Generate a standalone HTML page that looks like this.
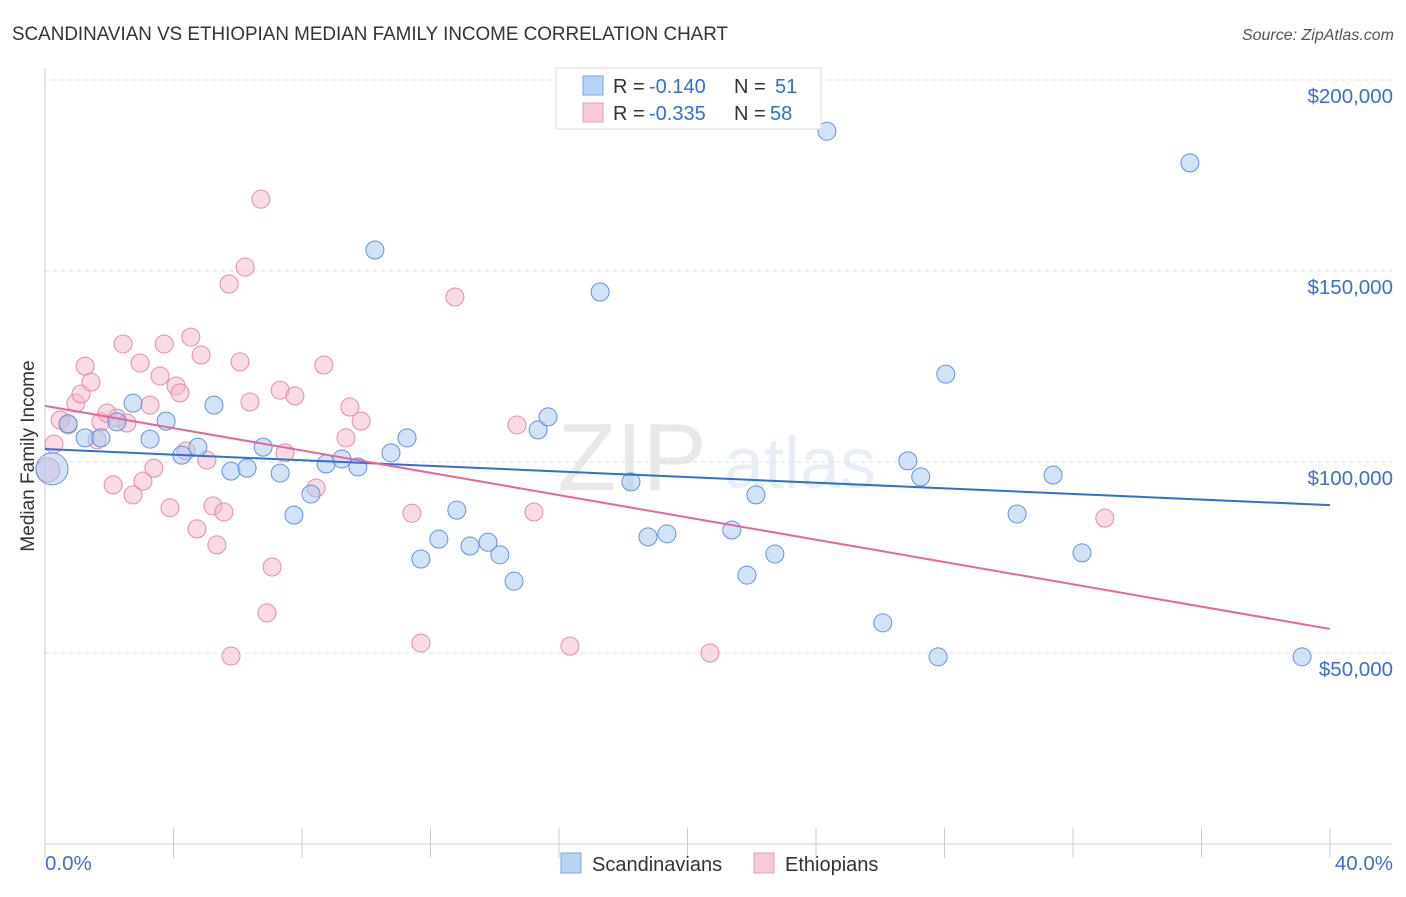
<!DOCTYPE html>
<html><head><meta charset="utf-8"><style>
body{margin:0;background:#fff;font-family:"Liberation Sans",sans-serif;}
svg text{font-family:"Liberation Sans",sans-serif;}
</style></head><body>
<svg id="chart" width="1406" height="892" viewBox="0 0 1406 892">
<text x="12" y="40" font-size="19" fill="#333" textLength="716" lengthAdjust="spacingAndGlyphs">SCANDINAVIAN VS ETHIOPIAN MEDIAN FAMILY INCOME CORRELATION CHART</text>
<text x="1394" y="40" font-size="16" fill="#555" text-anchor="end" font-style="italic">Source: ZipAtlas.com</text>
<text x="34" y="456" font-size="19" fill="#333" text-anchor="middle" transform="rotate(-90 34 456)">Median Family Income</text>
<g opacity="0.13">
<text x="632" y="490" font-size="96" font-family="Liberation Serif" fill="#555" text-anchor="middle">ZIP</text>
<text x="800" y="488" font-size="72" fill="#4a7fd0" text-anchor="middle">atlas</text>
</g>
<g id="grid"></g>
<g id="axes"></g>
<g id="marks"></g>
<g>
<rect x="556" y="68" width="265" height="61" fill="#fff" stroke="#ddd"/>
<rect x="583" y="76" width="20" height="19" fill="#b8d3f5" stroke="#7aa6e6"/>
<rect x="583" y="103" width="20" height="19" fill="#f9c9d8" stroke="#eb9ab5"/>
<text x="613" y="93" font-size="20" fill="#333">R =</text>
<text x="649" y="93" font-size="20" fill="#2f6fd6">-0.140</text>
<text x="734" y="93" font-size="20" fill="#333">N =</text>
<text x="775" y="93" font-size="20" fill="#2f6fd6">51</text>
<text x="613" y="120" font-size="20" fill="#333">R =</text>
<text x="649" y="120" font-size="20" fill="#2f6fd6">-0.335</text>
<text x="734" y="120" font-size="20" fill="#333">N =</text>
<text x="770" y="120" font-size="20" fill="#2f6fd6">58</text>
</g>
<g>
<rect x="561" y="853" width="20" height="20" fill="#b8d3f5" stroke="#7aa6e6"/>
<text x="592" y="871" font-size="20" fill="#333">Scandinavians</text>
<rect x="754" y="853" width="20" height="20" fill="#f9c9d8" stroke="#eb9ab5"/>
<text x="785" y="871" font-size="20" fill="#333">Ethiopians</text>
</g>
</svg>
<script>
const yTicks=[50000,100000,150000,200000];
const yTickLabels=["$50,000","$100,000","$150,000","$200,000"];
const xTickLabels=["0.0%","40.0%"];
const blueX=[0.22,0.72,1.25,1.74,2.24,2.74,3.27,3.77,4.26,4.76,5.26,5.79,6.29,6.79,7.32,7.75,8.28,8.75,9.24,9.74,10.27,10.77,11.27,11.7,12.26,12.82,13.23,13.79,14.16,14.6,15.35,15.66,17.28,18.24,18.77,19.36,21.38,21.85,22.13,22.72,24.34,26.08,26.86,27.26,27.8,28.04,30.26,31.38,32.28,35.64,39.13];
const blueY=[98.2,110,106.3,106.3,110.5,115.4,106,110.7,101.8,103.9,114.9,97.6,98.4,103.9,97.1,86.1,91.6,99.5,100.8,98.7,155.5,102.4,106.3,74.6,79.8,87.4,78,79,75.7,68.8,108.4,111.8,144.5,94.8,80.4,81.2,82.2,70.4,91.4,75.9,186.6,57.9,100.3,96.1,49,123,86.4,96.6,76.2,178.3,49];
const pinkX=[0.09,0.28,0.47,0.72,0.96,1.12,1.25,1.43,1.62,1.74,1.93,2.12,2.24,2.43,2.55,2.74,2.96,3.05,3.27,3.39,3.58,3.71,3.89,4.08,4.2,4.39,4.54,4.73,4.86,5.04,5.23,5.35,5.57,5.73,5.79,6.07,6.23,6.38,6.72,6.91,7.07,7.32,7.47,7.78,8.44,8.68,9.37,9.49,9.84,11.42,11.7,12.76,14.69,15.22,16.34,20.7,32.99];
const pinkY=[97.9,104.7,111,109.7,115.4,117.8,125.1,120.9,105.8,110.5,112.8,94,111.5,130.9,110.2,91.4,125.9,95,114.9,98.4,122.5,130.9,88,119.9,118.1,102.9,132.7,82.5,128,100.5,88.5,78.3,86.9,146.6,49.2,126.2,151,115.7,168.8,60.5,72.5,118.8,102.4,117.3,93.2,125.4,106.3,114.4,110.7,86.6,52.6,143.2,109.7,86.9,51.8,50,85.3];
const blueTrend=[103.4,88.7];
const pinkTrend=[114.7,56.3];
const NS='http://www.w3.org/2000/svg';
const X=v=>45+v/40*1285;
const Y=v=>844-v/50000*191;
function mk(t,a,p){const e=document.createElementNS(NS,t);for(const k in a)e.setAttribute(k,a[k]);p.appendChild(e);return e;}
const grid=document.getElementById('grid'),axes=document.getElementById('axes'),marks=document.getElementById('marks');
yTicks.forEach((t,i)=>{
 const l=mk('line',{x1:45,x2:1392,y1:Y(t),y2:Y(t),stroke:'#ddd','stroke-dasharray':'4,4'},grid);
 
 
 const tx=mk('text',{x:1393,y:Y(t)+23,'font-size':20.5,fill:'#3b6fd0','text-anchor':'end'},axes);
 tx.textContent=yTickLabels[i];
 
 
});
const ya=mk('line',{x1:45,x2:45,y1:68,y2:844,stroke:'#ccc'},axes);


const xa=mk('line',{x1:45,x2:1392,y1:844,y2:844,stroke:'#ccc'},axes);


for(let i=0;i<=10;i++){
 const tk=mk('line',{x1:X(i*4),x2:X(i*4),y1:828,y2:858,stroke:'#ccc'},axes);
 
 
}
const xl0=mk('text',{x:45,y:870,'font-size':20.5,fill:'#3b6fd0'},axes);xl0.textContent=xTickLabels[0];


const xl1=mk('text',{x:1393,y:870,'font-size':20.5,fill:'#3b6fd0','text-anchor':'end'},axes);xl1.textContent=xTickLabels[1];


function pts(xs,ys,fill,stroke,name){xs.forEach((x,i)=>{
 const r=(i===0&&name==='scandinavian-point')?16:(i===0?12:9);
 const c=mk('circle',{cx:X(x),cy:Y(ys[i]*1000),r:r,fill:fill,'fill-opacity':0.5,stroke:stroke,'stroke-width':1},marks);
 
 
});}
pts(pinkX,pinkY,'#f4b8cb','#e58aa8','ethiopian-point');
pts(blueX,blueY,'#a8c8f0','#5f93dc','scandinavian-point');
const bt=mk('line',{x1:X(0),x2:X(40),y1:Y(blueTrend[0]*1000),y2:Y(blueTrend[1]*1000),stroke:'#2f6fd6','stroke-width':2},marks);


const pt=mk('line',{x1:X(0),x2:X(40),y1:Y(pinkTrend[0]*1000),y2:Y(pinkTrend[1]*1000),stroke:'#e8649a','stroke-width':2},marks);


</script>
</body></html>
